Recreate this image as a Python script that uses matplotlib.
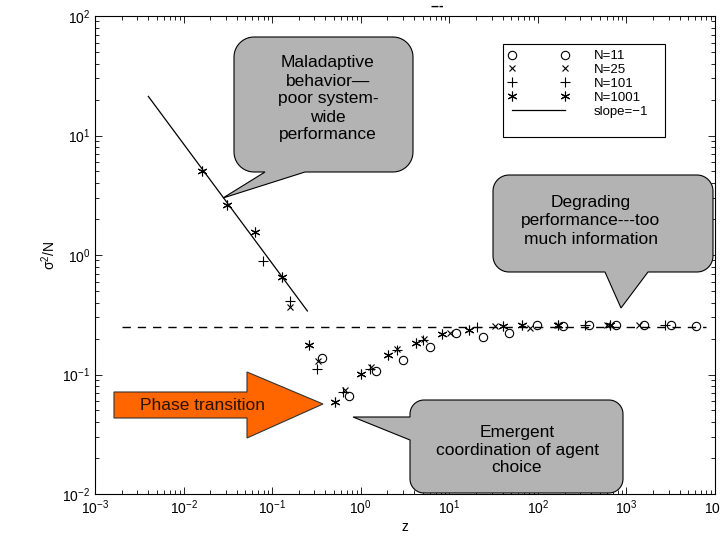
import numpy as np
import matplotlib
matplotlib.use('Agg')
import matplotlib.pyplot as plt
from matplotlib.patches import Polygon, Rectangle
from matplotlib.lines import Line2D
from matplotlib.ticker import LogLocator, NullFormatter

plt.rcParams['font.family'] = ['Liberation Sans', 'DejaVu Sans']
plt.rcParams['mathtext.fontset'] = 'custom'
plt.rcParams['mathtext.rm'] = 'Liberation Sans'
plt.rcParams['mathtext.default'] = 'regular'

# --- data ---
z_n11 = [0.368, 0.741, 1.48, 2.97, 6.04, 11.9, 23.8, 47.4, 96.7, 193, 380, 759, 1570, 3150, 6070]
s_n11 = [0.138, 0.066, 0.1065, 0.133, 0.17, 0.222, 0.206, 0.224, 0.258, 0.255, 0.258, 0.258, 0.258, 0.258, 0.255]

z_n25 = [0.161, 0.331, 0.66, 1.3, 2.6, 5.2, 10.2, 32.7, 81.2, 167, 596, 1390]
s_n25 = [0.367, 0.129, 0.074, 0.115, 0.165, 0.2, 0.222, 0.255, 0.245, 0.258, 0.258, 0.258]

z_n101 = [0.0794, 0.159, 0.318, 0.635, 1.27, 2.54, 5.07, 20.3, 339, 2710]
s_n101 = [0.896, 0.416, 0.111, 0.0708, 0.112, 0.16, 0.196, 0.25, 0.258, 0.258]

z_n1001 = [0.0161, 0.031, 0.0645, 0.130, 0.26, 0.512, 1.02, 2.01, 4.17, 8.32, 16.8, 40.6, 65.5, 167, 650]
s_n1001 = [5.0, 2.63, 1.56, 0.66, 0.175, 0.059, 0.1005, 0.147, 0.185, 0.217, 0.237, 0.255, 0.258, 0.258, 0.258]

slope_z = [0.004, 0.25]
slope_c = 0.085
ref_z = [0.002, 8000]
ref_level = 0.25

labels = ['N=11', 'N=25', 'N=101', 'N=1001', 'slope=\u22121']

W, H = 720, 540


def fxy(p):
    # pixel position (from top-left) -> figure fraction
    return (p[0] / W, 1 - p[1] / H)


def bubble(x0, y0, x1, y1, r, side, tail):
    pts = []

    def arc(cx, cy, a0, a1):
        for a in np.radians(np.linspace(a0, a1, 12)):
            pts.append((cx + r * np.cos(a), cy + r * np.sin(a)))
    arc(x1 - r, y0 + r, -90, 0)
    arc(x1 - r, y1 - r, 0, 90)
    if side == 'bottom':
        pts.extend(tail)
    arc(x0 + r, y1 - r, 90, 180)
    if side == 'left':
        pts.extend(tail)
    arc(x0 + r, y0 + r, 180, 270)
    return Polygon([fxy(p) for p in pts], closed=True, transform=fig.transFigure,
                   facecolor='#b3b3b3', edgecolor='black', linewidth=0.8, zorder=5)


fig = plt.figure(figsize=(7.2, 5.4), dpi=100)
ax = fig.add_axes([95 / W, 1 - 494 / H, 620 / W, 478 / H])
ax.set_xscale('log')
ax.set_yscale('log')
ax.set_xlim(1e-3, 1e4)
ax.set_ylim(1e-2, 1e2)

mk = dict(linestyle='none', color='black', markeredgewidth=0.8)
ax.plot(z_n11, s_n11, marker='o', markersize=6, markerfacecolor='none', **mk)
ax.plot(z_n25, s_n25, marker='x', markersize=5, **mk)
ax.plot(z_n101, s_n101, marker='+', markersize=7, **mk)
ax.plot(z_n1001, s_n1001, marker=(6, 2, 0), markersize=7, **mk)

sz = np.array(slope_z)
ax.plot(sz, slope_c / sz, color='black', linewidth=0.9)
ax.plot(ref_z, [ref_level, ref_level], color='black', linewidth=1.0, dashes=(6, 5))

ax.xaxis.set_minor_locator(LogLocator(base=10, subs=np.arange(2, 10), numticks=20))
ax.yaxis.set_minor_locator(LogLocator(base=10, subs=np.arange(2, 10), numticks=20))
ax.xaxis.set_minor_formatter(NullFormatter())
ax.yaxis.set_minor_formatter(NullFormatter())
ax.tick_params(which='both', direction='in', top=True, right=True, width=0.6, labelsize=10)
ax.tick_params(which='major', length=5)
ax.tick_params(which='minor', length=3)
for sp in ax.spines.values():
    sp.set_linewidth(0.8)

ax.set_xlabel('z', fontsize=10, labelpad=2)
ax.set_ylabel('\u03c3$^{2}$/N', fontsize=10, labelpad=3)

# legend
handles = [Line2D([], [], marker='o', markersize=6, markerfacecolor='none', **mk),
           Line2D([], [], marker='x', markersize=5, **mk),
           Line2D([], [], marker='+', markersize=7, **mk),
           Line2D([], [], marker=(6, 2, 0), markersize=7, **mk),
           Line2D([], [], color='black', linewidth=0.9)]
ax.legend(handles, labels, loc='upper left', bbox_to_anchor=fxy((508, 50)),
          bbox_transform=fig.transFigure, frameon=False, numpoints=2,
          handlelength=4.6, handletextpad=1.9, labelspacing=0.12, fontsize=9.5,
          borderaxespad=0, borderpad=0)
fig.add_artist(Rectangle(fxy((503, 137)), 162 / W, 93 / H, transform=fig.transFigure,
                         fill=False, edgecolor='black', linewidth=0.8, zorder=4))

# callouts
fig.add_artist(bubble(234, 37, 413, 172, 20, 'bottom', [(305, 172), (223, 198), (265, 172)]))
fig.text(*fxy((328, 99)), 'Maladaptive\nbehavior\u2014\npoor system-\nwide\nperformance',
         ha='center', va='center', fontsize=12.5, linespacing=1.25, zorder=6)

fig.add_artist(bubble(493, 175, 713, 272, 16, 'bottom', [(648, 272), (621, 308), (605, 272)]))
fig.text(*fxy((591, 221)), 'Degrading\nperformance---too\nmuch information',
         ha='center', va='center', fontsize=12.5, linespacing=1.25, zorder=6)

fig.add_artist(bubble(410, 400, 623, 493, 14, 'left', [(410, 440), (353, 417), (410, 417)]))
fig.text(*fxy((517, 450)), 'Emergent\ncoordination of agent\nchoice',
         ha='center', va='center', fontsize=12.5, linespacing=1.25, zorder=6)

arrow = [(114, 392), (247, 392), (247, 372), (323, 404), (247, 438), (247, 418), (114, 418)]
fig.add_artist(Polygon([fxy(p) for p in arrow], closed=True, transform=fig.transFigure,
                       facecolor='#ff6600', edgecolor='#333333', linewidth=0.8, zorder=5))
fig.text(*fxy((202, 405)), 'Phase transition', ha='center', va='center',
         fontsize=12.5, color='#2a1200', zorder=6)

fig.text(*fxy((437, 6)), '---', ha='center', va='center', fontsize=10, fontweight='bold')

fig.savefig('out.png', dpi=100)
